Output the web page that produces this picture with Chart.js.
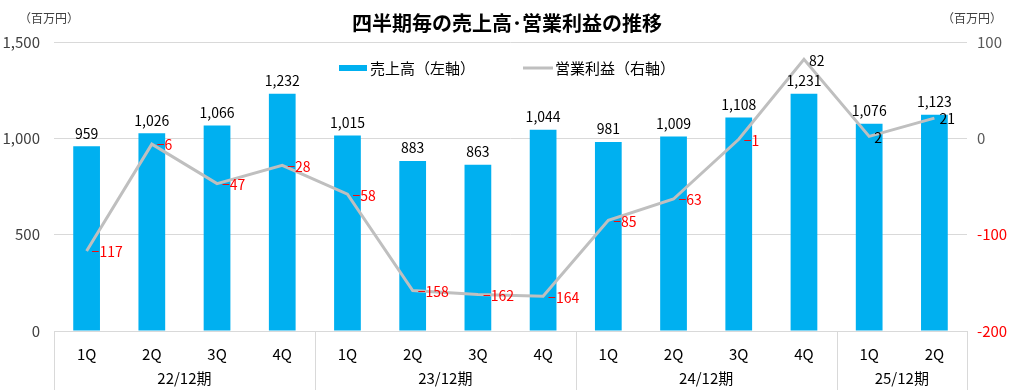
<!DOCTYPE html>
<html lang="ja">
<head>
<meta charset="utf-8">
<script src="https://cdn.jsdelivr.net/npm/chart.js@4.4.1/dist/chart.umd.min.js"></script>
<style>
  body { margin: 0; background: #fff; }
  #wrap { width: 1014px; height: 390px; }
</style>
</head>
<body>
<div id="wrap"><canvas id="chart"></canvas></div>
<script>
// data

const quarters = ["1Q", "2Q", "3Q", "4Q", "1Q", "2Q", "3Q", "4Q", "1Q", "2Q", "3Q", "4Q", "1Q", "2Q"];
const sales = [959, 1026, 1066, 1232, 1015, 883, 863, 1044, 981, 1009, 1108, 1231, 1076, 1123];
const profit = [-117, -6, -47, -28, -58, -158, -162, -164, -85, -63, -1, 82, 2, 21];
const years = ["22/12期", "23/12期", "24/12期", "25/12期"];
const yearSizes = [4, 4, 4, 2];
const leftTicks = [0, 500, 1000, 1500];
const rightTicks = [-200, -100, 0, 100];

const FONT = "'Noto Sans CJK JP', 'Noto Sans', sans-serif";

// extra drawing: data labels, legend, units, year groups

const extras = {
    id: 'extras',
    afterDatasetsDraw(chart) {
        const ctx = chart.ctx;
        const area = chart.chartArea;
        const x = chart.scales.x;

        ctx.save();
        ctx.font = '14px ' + FONT;
        ctx.textBaseline = 'middle';

        // bar labels
        ctx.textAlign = 'center';
        ctx.fillStyle = '#000';
        chart.getDatasetMeta(0).data.forEach((bar, i) => {
            ctx.fillText(sales[i].toLocaleString('en-US'), bar.x, bar.y - 13);
        });

        // line labels (long minus like the original)
        ctx.textAlign = 'left';
        chart.getDatasetMeta(1).data.forEach((pt, i) => {
            const v = profit[i];
            ctx.fillStyle = v < 0 ? '#FF0000' : '#000';
            ctx.fillText(v < 0 ? '−' + Math.abs(v) : String(v), pt.x + 5, pt.y + 1);
        });

        // legend
        ctx.font = '15px ' + FONT;
        const ds = chart.data.datasets;
        const w1 = ctx.measureText(ds[0].label).width;
        const w2 = ctx.measureText(ds[1].label).width;
        const total = 28 + 3 + w1 + 48 + 30 + 2 + w2;
        let lx = chart.width / 2 - total / 2;
        const ly = 68;
        ctx.fillStyle = ds[0].backgroundColor;
        ctx.fillRect(lx, ly - 3, 28, 6);
        lx += 31;
        ctx.fillStyle = '#000';
        ctx.fillText(ds[0].label, lx, ly);
        lx += w1 + 48;
        ctx.fillStyle = ds[1].borderColor;
        ctx.fillRect(lx, ly - 1.5, 30, 3);
        lx += 32;
        ctx.fillStyle = '#000';
        ctx.fillText(ds[1].label, lx, ly);

        // units
        ctx.font = '12px ' + FONT;
        ctx.fillStyle = '#404040';
        ctx.textAlign = 'left';
        ctx.fillText('（百万円）', 19, 18);
        ctx.textAlign = 'right';
        ctx.fillText('（百万円）', 1002, 18);

        // year groups under the quarter labels
        const half = x.width / quarters.length / 2;
        ctx.strokeStyle = '#D9D9D9';
        ctx.lineWidth = 1;
        ctx.font = '15px ' + FONT;
        ctx.fillStyle = '#000';
        ctx.textAlign = 'center';
        let start = 0;
        years.forEach((yr, g) => {
            const end = start + yearSizes[g] - 1;
            const x0 = x.getPixelForValue(start) - half;
            const x1 = x.getPixelForValue(end) + half;
            [x0, x1].forEach(px => {
                ctx.beginPath();
                ctx.moveTo(Math.round(px) + 0.5, area.bottom);
                ctx.lineTo(Math.round(px) + 0.5, chart.height);
                ctx.stroke();
            });
            ctx.fillText(yr, (x0 + x1) / 2, 378);
            start = end + 1;
        });
        ctx.restore();
    }
};

// chart

const canvas = document.getElementById("chart");

const chartData = {
    labels: quarters,
    datasets: [{
        type: 'bar',
        label: '売上高（左軸）',
        data: sales,
        backgroundColor: '#00B0F0',
        categoryPercentage: 1,
        barPercentage: 0.41,
        yAxisID: 'y',
        order: 2
    }, {
        type: 'line',
        label: '営業利益（右軸）',
        data: profit,
        borderColor: '#BFBFBF',
        backgroundColor: '#BFBFBF',
        borderWidth: 3,
        pointRadius: 0,
        tension: 0,
        yAxisID: 'y1',
        order: 1
    }]
};

const chartOptions = {
    responsive: true,
    maintainAspectRatio: false,
    animation: false,
    layout: { padding: 0 },
    scales: {
        x: {
            grid: { display: false },
            border: { color: '#D9D9D9' },
            ticks: {
                color: '#000',
                padding: 6,
                font: { family: FONT, size: 15 }
            },
            afterFit: s => { s.height = 59; }
        },
        y: {
            position: 'left',
            min: 0,
            max: 1500,
            afterBuildTicks: s => { s.ticks = leftTicks.map(v => ({ value: v })); },
            grid: { color: '#D9D9D9', drawTicks: false },
            border: { display: false },
            ticks: {
                color: '#404040',
                padding: 14,
                font: { family: FONT, size: 15 },
                callback: v => v.toLocaleString('en-US')
            },
            afterFit: s => { s.width = 54; }
        },
        y1: {
            position: 'right',
            min: -200,
            max: 100,
            afterBuildTicks: s => { s.ticks = rightTicks.map(v => ({ value: v })); },
            grid: { display: false, drawTicks: false },
            border: { display: false },
            ticks: {
                color: c => c.tick.value < 0 ? '#FF0000' : '#595959',
                padding: 10,
                font: { family: FONT, size: 15 }
            },
            afterFit: s => { s.width = 47; }
        }
    },
    plugins: {
        legend: { display: false },
        tooltip: { enabled: false },
        title: {
            display: true,
            text: '四半期毎の売上高･営業利益の推移',
            color: '#000',
            font: { family: FONT, size: 20, weight: 'bold' },
            padding: { top: 11, bottom: 7 }
        }
    }
};

let chart = new Chart(canvas, {
    data: chartData,
    options: chartOptions,
    plugins: [extras]
});
</script>
</body>
</html>
